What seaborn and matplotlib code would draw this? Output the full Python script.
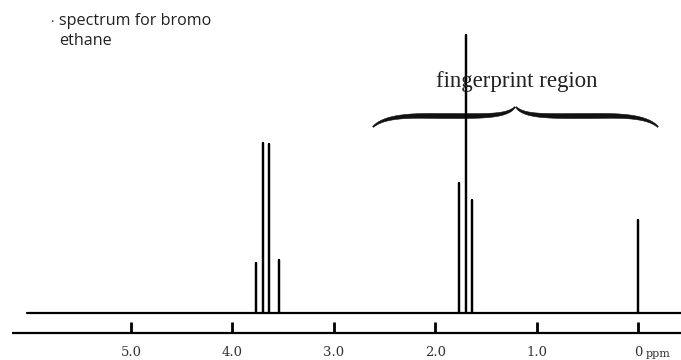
import numpy as np
import pandas as pd
import matplotlib
matplotlib.use("Agg")
import matplotlib.pyplot as plt
import seaborn as sns

# ---- data ----
peak_ppm = [3.765, 3.700, 3.636, 3.543, 1.762, 1.696, 1.637, 0.0]
peak_height = [50, 170, 169, 53, 130, 278, 113, 93]
baseline_start = 6.03
baseline_end = -0.45
tick_values = [5.0, 4.0, 3.0, 2.0, 1.0, 0.0]
tick_labels = ["5.0", "4.0", "3.0", "2.0", "1.0", "0"]
title_text = "spectrum for bromo\nethane"
region_label = "fingerprint region"

sns.set_style("white")

# build the stick spectrum trace
xs = [baseline_start]
ys = [0]
for p, h in sorted(zip(peak_ppm, peak_height), key=lambda t: -t[0]):
    xs += [p, p, p]
    ys += [0, h, 0]
xs.append(baseline_end)
ys.append(0)
df = pd.DataFrame({"ppm": xs, "intensity": ys, "order": range(len(xs))})

fig = plt.figure(figsize=(6.81, 3.6), dpi=100)
ax = fig.add_axes([0, 0, 1, 1])

# pixel <-> data helpers (0 ppm at px 638, 101.4 px per ppm; baseline at py 313)
def px2ppm(px):
    return (638 - px) / 101.4

def py2y(py):
    return 313 - py

ax.set_xlim(px2ppm(0), px2ppm(681))
ax.set_ylim(py2y(360), py2y(0))
ax.axis("off")

sns.lineplot(data=df, x="ppm", y="intensity", sort=False, estimator=None,
             color="black", lw=1.6, ax=ax)

# axis line and ticks
ax.hlines(py2y(333), px2ppm(12), px2ppm(681), color="black", lw=1.6)
ax.vlines(tick_values, py2y(333), py2y(322), color="black", lw=2.0)
for v, lab in zip(tick_values, tick_labels):
    ax.text(v, py2y(352), lab, ha="center", va="center",
            fontsize=9.5, family="DejaVu Serif", color="#333333")
ax.text(px2ppm(646), py2y(354), "ppm", ha="left", va="center",
        fontsize=8, family="DejaVu Serif", color="#333333")

# title text
ax.text(px2ppm(50), py2y(19), ".", ha="left", va="center", fontsize=9,
        family="Open Sans", color="#222222")
ax.text(px2ppm(59), py2y(31), title_text, ha="left", va="center",
        fontsize=11.6, family="Open Sans", color="#222222", linespacing=1.3)

# fingerprint region label
ax.text(px2ppm(517), py2y(81), region_label, ha="center", va="center",
        fontsize=16.5, family="Liberation Serif", color="#222222")

# curly brace (drawn as a filled tapered stroke)
def bez(p0, p1, p2, p3, n=60):
    t = np.linspace(0, 1, n)[:, None]
    return ((1 - t) ** 3) * p0 + 3 * ((1 - t) ** 2) * t * p1 + 3 * (1 - t) * t ** 2 * p2 + t ** 3 * p3

P = np.array
segA = bez(P([373, 127.0]), P([386, 114.0]), P([420, 116.0]), P([446, 116.0]))
segB = bez(P([446, 116.0]), P([482, 116.0]), P([507, 117.0]), P([515, 107.0]))
left = np.vstack([segA, segB[1:]])
right = left.copy()
right[:, 0] = 2 * 515.5 - right[:, 0]
right = right[::-1]
for half in (left, right):
    n = len(half)
    s = np.linspace(0, 1, n)
    w = 0.5 + 2.0 * np.sin(np.pi * s) ** 0.8
    d = np.gradient(half, axis=0)
    d /= np.linalg.norm(d, axis=1)[:, None]
    nrm = np.column_stack([-d[:, 1], d[:, 0]])
    upper = half + nrm * w[:, None]
    lower = half - nrm * w[:, None]
    poly = np.vstack([upper, lower[::-1]])
    ax.fill(px2ppm(poly[:, 0]), py2y(poly[:, 1]), color="#111111", lw=0.4,
            ec="#111111", zorder=1)

fig.savefig("out.png", dpi=100)
